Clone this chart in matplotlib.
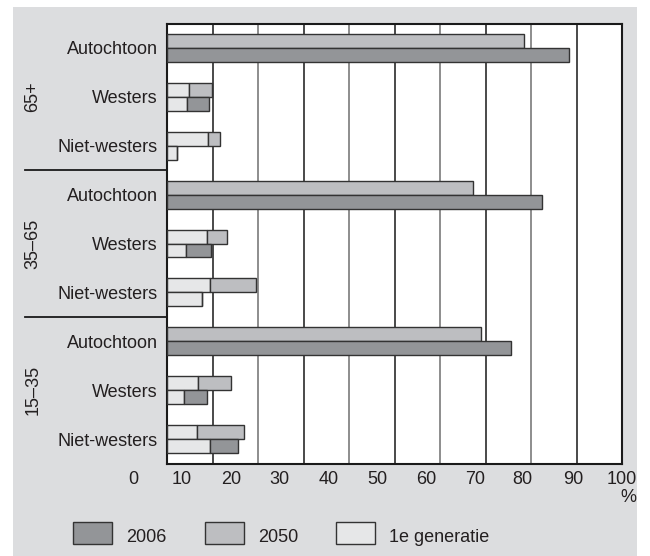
import matplotlib
matplotlib.use('Agg')
import matplotlib.pyplot as plt
import matplotlib.transforms as mtransforms
from matplotlib.patches import Rectangle
from matplotlib.lines import Line2D

plt.rcParams['font.family'] = ['Liberation Sans', 'DejaVu Sans']

# data
groups = ['65+', '35–65', '15–35']
origins = ['Autochtoon', 'Westers', 'Niet-westers']
total_2006 = [88.4, 9.3, 2.3, 82.5, 9.6, 7.8, 75.6, 8.9, 15.6]
gen1_2006 = [0, 4.4, 2.3, 0, 4.2, 7.8, 0, 3.8, 9.4]
total_2050 = [78.5, 9.8, 11.6, 67.3, 13.2, 19.5, 69.0, 14.1, 16.9]
gen1_2050 = [0, 4.8, 9.1, 0, 8.8, 9.4, 0, 6.9, 6.5]
tick_labels = ['0', '10', '20', '30', '40', '50', '60', '70', '80', '90', '100']
legend_labels = ['2006', '2050', '1e generatie']

# style
c_2006 = '#939598'
c_2050 = '#bdbec1'
c_gen1 = '#e6e7e8'
c_bg = '#dcdddf'
c_edge = '#333333'
c_text = '#231f20'
fs = 13

W, H = 650, 556
fig = plt.figure(figsize=(6.5, 5.56), dpi=100, facecolor='white')
fig.patches.append(Rectangle((13 / W, 0), (637 - 13) / W, (556 - 7) / H,
                             transform=fig.transFigure, facecolor=c_bg,
                             edgecolor='none', zorder=-10))

ax = fig.add_axes([167 / W, (H - 463.5) / H, 455 / W, 440 / H])
ax.set_facecolor('white')

n = len(groups) * len(origins)
ypos = list(range(n))
h = 0.286
y2050 = [y - h / 2 for y in ypos]
y2006 = [y + h / 2 for y in ypos]

rest_2050 = [t - g for t, g in zip(total_2050, gen1_2050)]
rest_2006 = [t - g for t, g in zip(total_2006, gen1_2006)]

kw = dict(height=h, edgecolor=c_edge, linewidth=1.0, zorder=3)
ax.barh(y2050, gen1_2050, color=c_gen1, **kw)
ax.barh(y2050, rest_2050, left=gen1_2050, color=c_2050, **kw)
ax.barh(y2006, gen1_2006, color=c_gen1, **kw)
ax.barh(y2006, rest_2006, left=gen1_2006, color=c_2006, **kw)

ax.set_xlim(0, 100)
ax.set_ylim(n - 0.5, -0.5)

for i, v in enumerate(range(10, 100, 10)):
    ax.axvline(v, color='#2a2a2a' if i % 2 == 0 else '#7a7a7a', lw=1.2, zorder=1)

for s in ax.spines.values():
    s.set_color('#1a1a1a')
    s.set_linewidth(1.5)

ax.set_xticks([])
ax.set_yticks(ypos)
ax.set_yticklabels(origins * len(groups), fontsize=fs, color=c_text)
ax.tick_params(axis='y', length=0, pad=6.5)

# x tick labels (offset as in the original print)
label_pos = [-7.5, 3.3, 14.1, 24.8, 35.6, 46.2, 56.9, 67.7, 78.2, 89.2, 100]
tr_x = mtransforms.blended_transform_factory(ax.transData, fig.transFigure)
for p, lab in zip(label_pos, tick_labels):
    ax.text(p, (H - 479) / H, lab, transform=tr_x, ha='center', va='center',
            fontsize=fs, color=c_text, clip_on=False)
fig.text(636 / W, (H - 497) / H, '%', ha='right', va='center',
         fontsize=fs, color=c_text)

# group labels and separators
tr_y = mtransforms.blended_transform_factory(fig.transFigure, ax.transData)
for gi, g in enumerate(groups):
    ax.text(33 / W, gi * 3 + 1, g, transform=tr_y, rotation=90,
            ha='center', va='center', fontsize=fs, color=c_text, clip_on=False)
for sep in (2.5, 5.5):
    ax.add_line(Line2D([25 / W, 167 / W], [sep, sep], transform=tr_y,
                       color='#1a1a1a', lw=1.3, clip_on=False))

# legend
leg_x = [73, 205, 336]
for x, lab, col in zip(leg_x, legend_labels, [c_2006, c_2050, c_gen1]):
    fig.patches.append(Rectangle((x / W, (H - 544) / H), 39 / W, 22 / H,
                                 transform=fig.transFigure, facecolor=col,
                                 edgecolor=c_edge, linewidth=1.0))
    fig.text((x + 53) / W, (H - 538) / H, lab, ha='left', va='center',
             fontsize=fs, color=c_text)

fig.savefig('out.png', dpi=100, facecolor='white')
